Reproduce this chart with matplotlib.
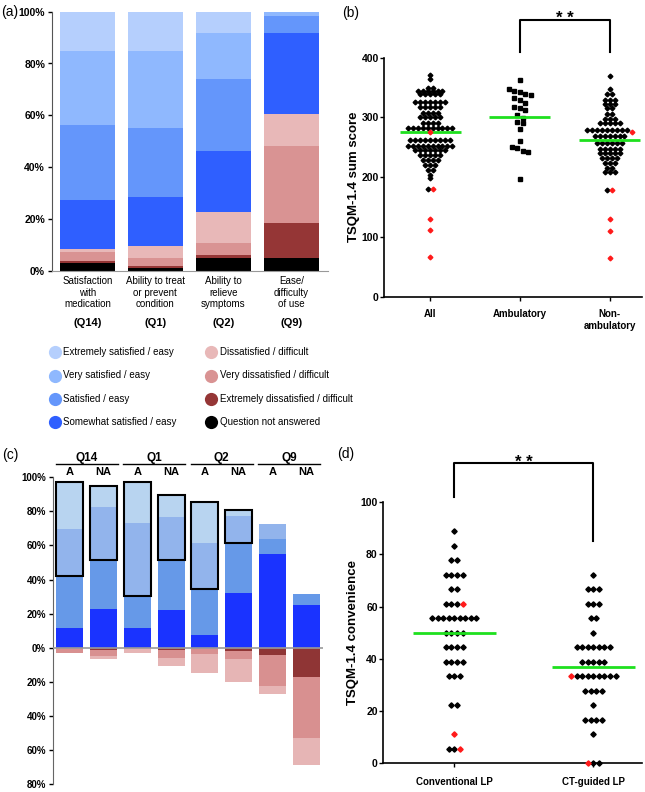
import matplotlib
matplotlib.use("Agg")
import matplotlib.pyplot as plt
import numpy as np
from matplotlib import transforms
from matplotlib import font_manager as fm

# ---------------- data ----------------
# Panel (a): percentages, stacked bottom -> top
categories_a = ["Satisfaction\nwith\nmedication", "Ability to treat\nor prevent\ncondition",
                "Ability to\nrelieve\nsymptoms", "Ease/\ndifficulty\nof use"]
codes_a = ["(Q14)", "(Q1)", "(Q2)", "(Q9)"]
not_answered_a = [2.8, 0.9, 5.0, 5.0]
ext_dissat_a = [1.1, 0.9, 1.0, 13.4]
very_dissat_a = [3.2, 3.2, 4.6, 29.9]
dissat_a = [1.3, 4.5, 12.2, 12.2]
somewhat_a = [18.9, 18.9, 23.4, 31.1]
satisfied_a = [28.8, 26.6, 27.8, 6.9]
very_sat_a = [28.8, 29.9, 17.6, 1.5]
extremely_a = [15.1, 15.1, 8.4, 0.0]

legend_left = ["Extremely satisfied / easy", "Very satisfied / easy", "Satisfied / easy",
               "Somewhat satisfied / easy"]
legend_right = ["Dissatisfied / difficult", "Very dissatisfied / difficult",
                "Extremely dissatisfied / difficult", "Question not answered"]

# Panel (b): TSQM-1.4 sum score
groups_b = ["All", "Ambulatory", "Non-\nambulatory"]
all_black = [371, 364, 350, 350] + [345] * 6 + [339] * 5 + [326] * 7 + [318] * 5 + [308] * 4 + \
            [300] * 5 + [291] * 4 + [282] * 10 + [262] * 9 + [252] * 10 + [245] * 7 + [237] * 5 + \
            [229] * 4 + [220] * 3 + [212] * 2 + [204, 198, 180]
all_red = [276, 180, 130, 111, 66]
amb_black = [363, 348, 344, 342, 339, 338, 332, 330, 324, 318, 315, 313, 304, 299, 293, 290,
             280, 261, 250, 249, 244, 242, 197]
nonamb_black = [370, 347, 340, 340] + [330] * 3 + [322] * 3 + [315] * 2 + [306] * 2 + [297] * 3 + \
               [290] * 5 + [279] * 9 + [269] * 7 + [257] * 6 + [248] * 5 + [240] * 5 + [232] * 4 + \
               [223] * 3 + [216] * 2 + [209] * 3 + [178]
nonamb_red = [275, 178, 130, 110, 64]
medians_b = [275, 300, 262]

# Panel (c): A vs NA, percentages
headers_c = ["Q14", "Q1", "Q2", "Q9"]
subs_c = ["A", "NA"]
somewhat_c = [11.5, 22.7, 11.5, 21.9, 7.4, 31.9, 54.8, 24.9]
satisfied_c = [30.8, 28.8, 18.8, 29.6, 27.2, 29.5, 9.0, 6.6]
very_sat_c = [27.4, 30.9, 43.1, 25.2, 27.0, 16.1, 9.0, 0.0]
extremely_c = [27.6, 12.5, 24.1, 13.1, 24.1, 3.5, 0.0, 0.0]
ext_dissat_c = [0.0, 1.4, 0.0, 1.4, 0.0, 1.8, 4.5, 17.4]
very_dissat_c = [3.3, 3.3, 0.0, 4.7, 3.7, 4.7, 18.0, 35.8]
dissat_c = [0.0, 1.8, 3.3, 4.7, 11.3, 13.5, 4.7, 15.5]
boxed_c = [True, True, True, True, True, True, False, False]

# Panel (d): TSQM-1.4 convenience
groups_d = ["Conventional LP", "CT-guided LP"]
conv_black = [88.9, 83.3] + [77.8] * 2 + [72.2] * 4 + [66.7] * 2 + [61.1] * 3 + [55.6] * 9 + \
             [50.0] * 4 + [44.4] * 4 + [38.9] * 4 + [33.3] * 3 + [22.2] * 2 + [5.6] * 2
conv_red = [61.1, 11.1, 5.6]
ct_black = [72.2] + [66.7] * 3 + [61.1] * 3 + [55.6] * 2 + [50.0] + [44.4] * 7 + [38.9] * 5 + \
           [33.3] * 8 + [27.8] * 4 + [22.2] + [16.7] * 4 + [11.1] + [0.0] * 2
ct_red = [33.3, 0.0]
medians_d = [50.0, 36.9]

# ---------------- style ----------------
plt.rcParams['font.family'] = ['Liberation Sans', 'DejaVu Sans']
names = {f.name for f in fm.fontManager.ttflist}
if 'Liberation Sans Narrow' in names:
    NARROW, NSIZE = ['Liberation Sans Narrow', 'Liberation Sans'], 8
else:
    NARROW, NSIZE = ['Liberation Sans', 'DejaVu Sans'], 7

cols_a = ["#000000", "#953636", "#d99393", "#e8b8b8", "#2f5fff", "#6496fb", "#8fb8fe", "#b5cffd"]
cols_c_pos = ["#1a33ff", "#6699e8", "#92b4ec", "#b8d4f0"]
cols_c_neg = ["#8f3535", "#d89090", "#e6b5b5"]
GREEN = "#1ee01e"
RED = "#ff1a1a"

W, H = 645, 792
fig = plt.figure(figsize=(W / 100, H / 100), dpi=100)


def px_axes(l, t, r, b):
    return fig.add_axes([l / W, 1 - b / H, (r - l) / W, (b - t) / H])


ov = fig.add_axes([0, 0, 1, 1])
ov.set_xlim(0, W)
ov.set_ylim(H, 0)
ov.axis('off')
ov.set_zorder(10)

ax_a = px_axes(52, 11.7, 328, 270.7)
ax_b = px_axes(384.3, 57.7, 642, 296.7)
ax_c = px_axes(53, 477.3, 323, 784)
ax_d = px_axes(383.3, 502, 642, 763.3)


def style_ticks(ax, size=7.5, pad=2):
    ax.tick_params(axis='both', direction='out', length=3, width=1, labelsize=size, pad=pad)
    for lab in ax.get_yticklabels() + ax.get_xticklabels():
        lab.set_fontweight('bold')


# ---------------- panel (a) ----------------
xa = np.arange(len(categories_a))
layers_a = [not_answered_a, ext_dissat_a, very_dissat_a, dissat_a, somewhat_a, satisfied_a,
            very_sat_a, extremely_a]
bottom = np.zeros(len(xa))
for vals, col in zip(layers_a, cols_a):
    ax_a.bar(xa, vals, width=0.81, bottom=bottom, color=col, linewidth=0)
    bottom += np.array(vals)
ax_a.set_xlim(-0.52, 3.54)
ax_a.set_ylim(0, 100)
ax_a.set_yticks(np.arange(0, 101, 20))
ax_a.set_yticklabels([f"{v}%" for v in range(0, 101, 20)])
ax_a.set_xticks([])
for s in ['top', 'right']:
    ax_a.spines[s].set_visible(False)
ax_a.spines['left'].set_color('#555555')
ax_a.spines['bottom'].set_color('#999999')
style_ticks(ax_a, 7.5)
tr_a = transforms.blended_transform_factory(ax_a.transData, ov.transData)
for i, (lab, code) in enumerate(zip(categories_a, codes_a)):
    ax_a.text(i, 276, lab, transform=tr_a, ha='center', va='top', fontsize=NSIZE,
              family=NARROW, linespacing=1.2)
    ax_a.text(i, 323, code, transform=tr_a, ha='center', va='center', fontsize=8,
              fontweight='bold')

# legend
leg_rows = [352, 375.5, 399, 422]
for lab, col, y in zip(legend_left, cols_a[4:][::-1], leg_rows):
    ov.plot(55, y, 'o', ms=9.5, color=col, mec='none')
    ov.text(63, y, lab, va='center', ha='left', fontsize=NSIZE, family=NARROW)
for lab, col, y in zip(legend_right, cols_a[:4][::-1], leg_rows):
    ov.plot(211, y, 'o', ms=9.5, color=col, mec='none')
    ov.text(220, y, lab, va='center', ha='left', fontsize=NSIZE, family=NARROW)


# ---------------- swarm helper ----------------
def row_layout(black, red, center, dx, tol, red_first=False):
    items = [(v, False) for v in black] + [(v, True) for v in red]
    if red_first:
        items.sort(key=lambda t: (-t[0], 0 if t[1] else 1))
    else:
        items.sort(key=lambda t: (-t[0], 1 if t[1] else 0))
    rows = []
    for it in items:
        if rows and rows[-1][0][0] - it[0] <= tol:
            rows[-1].append(it)
        else:
            rows.append([it])
    xs, ys, rs = [], [], []
    for row in rows:
        n = len(row)
        for i, (v, r) in enumerate(row):
            xs.append(center + (i - (n - 1) / 2) * dx)
            ys.append(v)
            rs.append(r)
    return np.array(xs), np.array(ys), np.array(rs)


# ---------------- panel (b) ----------------
specs_b = [(all_black, all_red, 'D', 2.4, 0.055, 4.5),
           (amb_black, [], 's', 3.0, 0.06, 10),
           (nonamb_black, nonamb_red, 'D', 2.4, 0.055, 4.5)]
for c, (blk, red, mk, ms, dx, tol) in enumerate(specs_b):
    xs, ys, rs = row_layout(blk, red, c, dx, tol)
    ax_b.plot(xs[~rs], ys[~rs], mk, ms=ms, color='black', mec='black', zorder=2, clip_on=False)
    if rs.any():
        ax_b.plot(xs[rs], ys[rs], mk, ms=ms, color=RED, mec=RED, zorder=4, clip_on=False)
    ax_b.hlines(medians_b[c], c - 0.34, c + 0.34, color=GREEN, lw=2, zorder=3)
ax_b.set_xlim(-0.51, 2.36)
ax_b.set_ylim(0, 400)
ax_b.set_yticks([0, 100, 200, 300, 400])
ax_b.set_xticks(range(3))
ax_b.set_xticklabels(groups_b, va='top')
for s in ['top', 'right']:
    ax_b.spines[s].set_visible(False)
for s in ['left', 'bottom']:
    ax_b.spines[s].set_linewidth(1.2)
style_ticks(ax_b, 7.5, pad=1)
ax_b.tick_params(axis='x', labelsize=7, pad=6)
for lab in ax_b.get_xticklabels():
    lab.set_fontweight('bold')
ax_b.set_ylabel("TSQM-1.4 sum score", fontsize=9.5, fontweight='bold', labelpad=1)
ax_b.plot([1, 1, 2, 2], [409.6, 463, 463, 409.6], color='black', lw=1.5, clip_on=False)
ax_b.text(1.5, 458, "* *", ha='center', va='baseline', fontsize=12, fontweight='bold')

# ---------------- panel (c) ----------------
xc = np.arange(len(somewhat_c))
bottom = np.zeros(len(xc))
for vals, col in zip([somewhat_c, satisfied_c, very_sat_c, extremely_c], cols_c_pos):
    ax_c.bar(xc, vals, width=0.8, bottom=bottom, color=col, linewidth=0)
    bottom += np.array(vals)
neg = np.zeros(len(xc))
for vals, col in zip([ext_dissat_c, very_dissat_c, dissat_c], cols_c_neg):
    ax_c.bar(xc, -np.array(vals), width=0.8, bottom=-neg, color=col, linewidth=0)
    neg += np.array(vals)
base = np.array(somewhat_c) + np.array(satisfied_c)
top = base + np.array(very_sat_c) + np.array(extremely_c)
for i in xc:
    if boxed_c[i]:
        ax_c.bar(i, top[i] - base[i], width=0.8, bottom=base[i], fill=False,
                 edgecolor='black', linewidth=1.5, zorder=4)
ax_c.axhline(0, color='#9a9a9a', lw=1.2, zorder=3)
ax_c.set_xlim(-0.5, 7.5)
ax_c.set_ylim(-80, 100)
ax_c.set_yticks(np.arange(-80, 101, 20))
ax_c.set_yticklabels([f"{abs(v)}%" for v in range(-80, 101, 20)])
ax_c.set_xticks([])
for s in ['top', 'right', 'bottom']:
    ax_c.spines[s].set_visible(False)
ax_c.spines['left'].set_color('#666666')
style_ticks(ax_c, 7)
for g, name in enumerate(headers_c):
    ax_c.text(2 * g + 0.5, 111.5, name, ha='center', va='center', fontsize=8.5,
              fontweight='bold', clip_on=False)
    ax_c.plot([2 * g - 0.42, 2 * g + 1.42], [107.8, 107.8], color='black', lw=1, clip_on=False)
    for k, sub in enumerate(subs_c):
        ax_c.text(2 * g + k, 103.2, sub, ha='center', va='center', fontsize=8,
                  fontweight='bold', clip_on=False)

# ---------------- panel (d) ----------------
specs_d = [(conv_black, conv_red, False), (ct_black, ct_red, True)]
for c, (blk, red, rf) in enumerate(specs_d):
    xs, ys, rs = row_layout(blk, red, c, 0.04, 0.5, red_first=rf)
    ax_d.plot(xs[~rs], ys[~rs], 'D', ms=2.7, color='black', mec='black', zorder=2, clip_on=False)
    ax_d.plot(xs[rs], ys[rs], 'D', ms=2.7, color=RED, mec=RED, zorder=4, clip_on=False)
    ax_d.hlines(medians_d[c], c - 0.3, c + 0.3, color=GREEN, lw=2, zorder=3)
ax_d.set_xlim(-0.51, 1.35)
ax_d.set_ylim(0, 100)
ax_d.set_yticks(np.arange(0, 101, 20))
ax_d.set_xticks([0, 1])
ax_d.set_xticklabels(groups_d)
for s in ['top', 'right']:
    ax_d.spines[s].set_visible(False)
for s in ['left', 'bottom']:
    ax_d.spines[s].set_linewidth(1.2)
style_ticks(ax_d, 7.5, pad=1)
ax_d.tick_params(axis='x', labelsize=7, pad=7)
for lab in ax_d.get_xticklabels():
    lab.set_fontweight('bold')
ax_d.set_ylabel("TSQM-1.4 convenience", fontsize=9.5, fontweight='bold', labelpad=1)
ax_d.plot([0, 0, 1, 1], [101.8, 114.8, 114.8, 85.2], color='black', lw=1.5, clip_on=False)
ax_d.text(0.5, 113.5, "* *", ha='center', va='baseline', fontsize=12, fontweight='bold')

# panel letters
for txt, x, y in [("(a)", 1, 12), ("(b)", 342, 13), ("(c)", 2, 455), ("(d)", 337, 454)]:
    ov.text(x, y, txt, ha='left', va='center', fontsize=10)

fig.savefig("out.png", dpi=100)
